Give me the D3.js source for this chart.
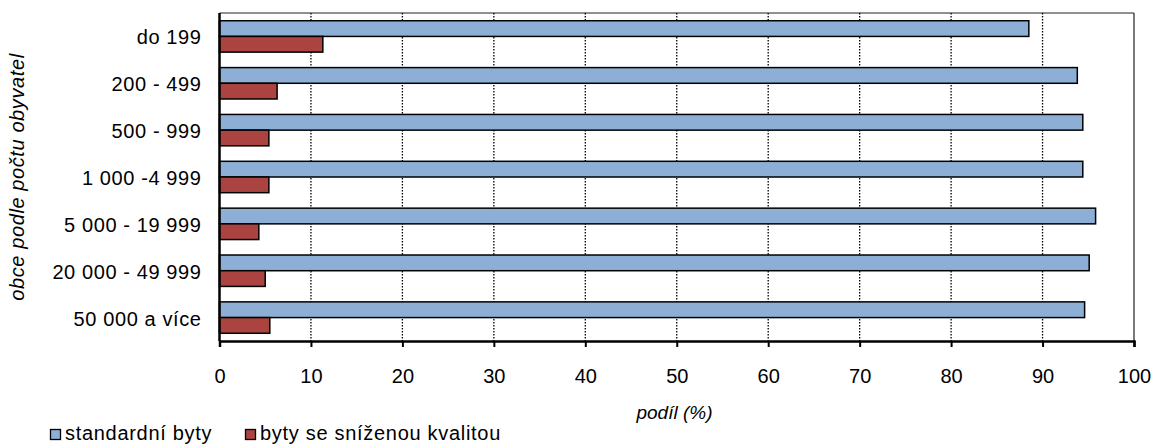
<!DOCTYPE html>
<html>
<head>
<meta charset="utf-8">
<script src="https://cdn.jsdelivr.net/npm/d3@7"></script>
<style>
  body { margin: 0; background: #fff; }
  text { font-family: "Liberation Sans", Arial, sans-serif; fill: #000; }
</style>
</head>
<body>
<div id="chart"></div>
<script>
// categories and the two series (share in %)
var categories = ["do 199", "200 - 499", "500 - 999", "1 000 -4 999", "5 000 - 19 999", "20 000 - 49 999", "50 000 a více"];
var standardni = [88.5, 93.8, 94.4, 94.4, 95.8, 95.1, 94.6];
var snizena = [11.3, 6.3, 5.4, 5.4, 4.3, 5.0, 5.5];
var xTicks = [0, 10, 20, 30, 40, 50, 60, 70, 80, 90, 100];
var seriesNames = ["standardní byty", "byty se sníženou kvalitou"];
var colors = ["#8DAFD6", "#AB4441"];

var margin = { top: 13, left: 219.5 },
    plotW = 914.5,
    plotH = 328;

var svg = d3.select("#chart")
    .append("svg")
    .attr("width", 1154)
    .attr("height", 445)
    .append("g")
    .attr("transform", "translate(" + margin.left + "," + margin.top + ")");

var x = d3.scaleLinear().domain([0, 100]).range([0, plotW]);
var y = d3.scaleBand().domain(categories).range([0, plotH]).paddingInner(0.33).paddingOuter(0.165);
var sub = d3.scaleBand().domain([0, 1]).range([0, y.bandwidth()]);

// plot frame (top & right)
svg.append("line").attr("x1", 0).attr("x2", x(100)).attr("y1", 0).attr("y2", 0)
    .attr("stroke", "#222").attr("stroke-width", 1.2);
svg.append("line").attr("x1", x(100)).attr("x2", x(100)).attr("y1", 0).attr("y2", plotH)
    .attr("stroke", "#222").attr("stroke-width", 1.2);

// dotted gridlines
svg.selectAll(".grid")
    .data(xTicks.filter(function (d) { return d > 0 && d < 100; }))
    .enter().append("line")
    .attr("class", "grid")
    .attr("x1", function (d) { return x(d); })
    .attr("x2", function (d) { return x(d); })
    .attr("y1", 0).attr("y2", plotH)
    .attr("stroke", "#000").attr("stroke-width", 1.3)
    .attr("stroke-dasharray", "1.5,1.5");

// bars
var rows = categories.map(function (c, i) {
    return { cat: c, vals: [standardni[i], snizena[i]] };
});
var groups = svg.selectAll(".row").data(rows).enter().append("g")
    .attr("transform", function (d) { return "translate(0," + y(d.cat) + ")"; });
groups.selectAll("rect")
    .data(function (d) { return d.vals; })
    .enter().append("rect")
    .attr("x", 0)
    .attr("y", function (d, i) { return sub(i); })
    .attr("width", function (d) { return x(d); })
    .attr("height", sub.bandwidth())
    .attr("fill", function (d, i) { return colors[i]; })
    .attr("stroke", "#000")
    .attr("stroke-width", 1.5);

// x axis
var xAxis = svg.append("g")
    .attr("transform", "translate(0," + plotH + ")")
    .call(d3.axisBottom(x).tickValues(xTicks).tickSize(6).tickPadding(22));
xAxis.select(".domain").attr("stroke-width", 2.5);
xAxis.selectAll(".tick line").attr("stroke-width", 2);
xAxis.selectAll("text").style("font-size", "20px");

// y axis
var yAxis = svg.append("g")
    .call(d3.axisLeft(y).tickSize(0).tickPadding(18));
yAxis.select(".domain").attr("stroke-width", 2.5).attr("d", "M0,0V" + plotH);
yAxis.selectAll("text").style("font-size", "20px").style("letter-spacing", "0.6px")
    .attr("dy", "0.4em");

// axis titles
svg.append("text")
    .attr("x", 455)
    .attr("y", 406)
    .attr("text-anchor", "middle")
    .style("font-size", "19px")
    .style("font-style", "italic")
    .text("podíl (%)");

svg.append("text")
    .attr("transform", "rotate(-90)")
    .attr("x", -164)
    .attr("y", -196)
    .attr("text-anchor", "middle")
    .style("font-size", "20px")
    .style("letter-spacing", "0.6px")
    .style("font-style", "italic")
    .text("obce podle počtu obyvatel");

// legend
var legend = d3.select("svg").append("g").attr("transform", "translate(50,429)");
var legX = [0, 195];
seriesNames.forEach(function (name, i) {
    var g = legend.append("g").attr("transform", "translate(" + legX[i] + ",0)");
    g.append("rect").attr("x", 0.5).attr("y", 0.5).attr("width", 10).attr("height", 10)
        .attr("fill", colors[i]).attr("stroke", "#000").attr("stroke-width", 1.3);
    g.append("text").attr("x", 15).attr("y", 11)
        .style("font-size", "20px")
        .style("letter-spacing", "0.7px")
        .text(name);
});
</script>
</body>
</html>
